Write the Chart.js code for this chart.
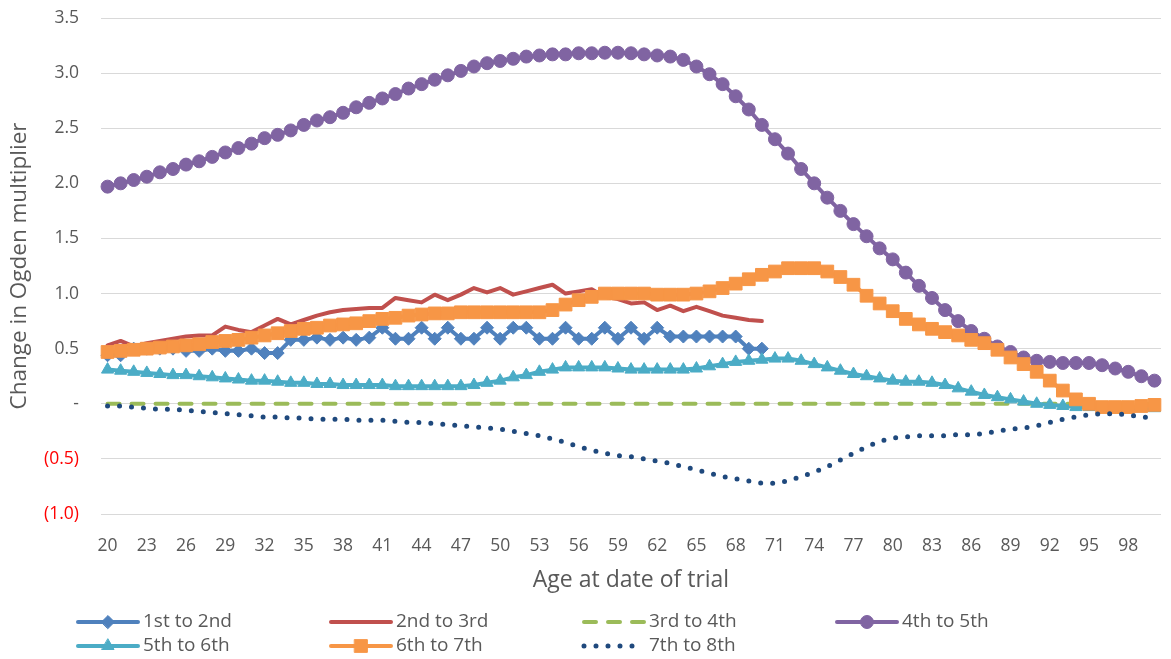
<!DOCTYPE html>
<html>
<head>
<meta charset="utf-8">
<script src="https://cdn.jsdelivr.net/npm/chart.js@4.4.1/dist/chart.umd.min.js"></script>
<style>
  html, body { margin: 0; padding: 0; background: #ffffff; }
  #wrap { width: 1171px; height: 659px; position: relative; }
</style>
</head>
<body>
<div id="wrap"><canvas id="c" width="1171" height="659"></canvas></div>
<script>
const ages = [20,21,22,23,24,25,26,27,28,29,30,31,32,33,34,35,36,37,38,39,40,41,42,43,44,45,46,47,48,49,50,51,52,53,54,55,56,57,58,59,60,61,62,63,64,65,66,67,68,69,70,71,72,73,74,75,76,77,78,79,80,81,82,83,84,85,86,87,88,89,90,91,92,93,94,95,96,97,98,99,100];

const seriesNames = ["1st to 2nd","2nd to 3rd","3rd to 4th","4th to 5th","5th to 6th","6th to 7th","7th to 8th"];

const firstToSecond = [0.44,0.44,0.5,0.5,0.5,0.5,0.48,0.48,0.5,0.48,
  0.48,0.5,0.46,0.46,0.58,0.58,0.6,0.58,0.6,0.58,
  0.6,0.69,0.59,0.59,0.69,0.59,0.69,0.59,0.59,0.69,
  0.59,0.69,0.69,0.59,0.59,0.69,0.59,0.59,0.69,0.59,
  0.69,0.59,0.69,0.61,0.61,0.61,0.61,0.61,0.61,0.5,
  0.5];

const secondToThird = [0.53,0.57,0.52,0.55,0.57,0.59,0.61,0.62,0.62,0.70,
  0.67,0.65,0.71,0.77,0.72,0.76,0.80,0.83,0.85,0.86,
  0.87,0.87,0.96,0.94,0.92,0.99,0.94,0.99,1.05,1.01,
  1.05,0.99,1.02,1.05,1.08,1.00,1.02,1.04,0.97,0.95,
  0.91,0.92,0.85,0.89,0.84,0.88,0.84,0.80,0.78,0.76,
  0.75];

const thirdToFourth = [0,0,0,0,0,0,0,0,0,0,
  0,0,0,0,0,0,0,0,0,0,
  0,0,0,0,0,0,0,0,0,0,
  0,0,0,0,0,0,0,0,0,0,
  0,0,0,0,0,0,0,0,0,0,
  0,0,0,0,0,0,0,0,0,0,
  0,0,0,0,0,0,0,0,0,0,
  0,0,0,0,0,0,0,0,0,0,
  0];

const fourthToFifth = [1.97,2.00,2.03,2.06,2.10,2.13,2.17,2.20,2.24,2.28,
  2.32,2.36,2.41,2.44,2.48,2.53,2.57,2.60,2.64,2.69,
  2.73,2.77,2.81,2.86,2.90,2.94,2.98,3.02,3.06,3.09,
  3.11,3.13,3.15,3.16,3.17,3.17,3.18,3.18,3.185,3.185,
  3.18,3.17,3.16,3.15,3.12,3.06,2.99,2.90,2.79,2.67,
  2.53,2.40,2.27,2.13,2.00,1.87,1.75,1.63,1.52,1.41,
  1.31,1.19,1.07,0.96,0.85,0.75,0.66,0.59,0.52,0.47,
  0.42,0.39,0.38,0.37,0.37,0.37,0.35,0.32,0.29,0.25,
  0.21];

const fifthToSixth = [0.31,0.30,0.29,0.28,0.27,0.26,0.26,0.25,0.24,0.23,
  0.22,0.21,0.21,0.20,0.19,0.19,0.18,0.18,0.17,0.17,
  0.17,0.17,0.16,0.16,0.16,0.16,0.16,0.16,0.17,0.19,
  0.21,0.24,0.26,0.29,0.31,0.33,0.33,0.33,0.33,0.32,
  0.31,0.31,0.31,0.31,0.31,0.32,0.34,0.36,0.38,0.39,
  0.40,0.41,0.41,0.39,0.36,0.33,0.30,0.27,0.25,0.23,
  0.21,0.20,0.20,0.19,0.17,0.14,0.11,0.08,0.06,0.04,
  0.02,0.00,-0.01,-0.02,-0.03,-0.03,-0.04,-0.04,-0.04,-0.04,
  -0.04];

const sixthToSeventh = [0.47,0.48,0.49,0.50,0.51,0.52,0.53,0.54,0.56,0.57,
  0.58,0.60,0.62,0.64,0.66,0.68,0.69,0.71,0.72,0.73,
  0.75,0.77,0.78,0.80,0.81,0.82,0.82,0.83,0.83,0.83,
  0.83,0.83,0.83,0.83,0.85,0.90,0.94,0.97,1.00,1.00,
  1.00,1.00,0.99,0.99,0.99,1.00,1.02,1.05,1.09,1.13,
  1.17,1.20,1.23,1.23,1.23,1.20,1.15,1.08,0.98,0.91,
  0.84,0.77,0.72,0.68,0.65,0.62,0.58,0.55,0.49,0.42,
  0.36,0.29,0.21,0.12,0.04,0.00,-0.03,-0.03,-0.03,-0.02,
  -0.01];

const seventhToEighth = [-0.02,-0.02,-0.03,-0.04,-0.05,-0.05,-0.06,-0.07,-0.08,-0.09,
  -0.10,-0.11,-0.12,-0.12,-0.13,-0.13,-0.14,-0.14,-0.14,-0.15,
  -0.15,-0.15,-0.16,-0.17,-0.17,-0.18,-0.19,-0.20,-0.21,-0.22,
  -0.23,-0.25,-0.27,-0.29,-0.32,-0.35,-0.39,-0.42,-0.45,-0.47,
  -0.48,-0.50,-0.52,-0.54,-0.57,-0.60,-0.63,-0.66,-0.68,-0.70,
  -0.72,-0.72,-0.70,-0.66,-0.62,-0.57,-0.51,-0.45,-0.39,-0.34,
  -0.31,-0.30,-0.29,-0.29,-0.29,-0.28,-0.28,-0.27,-0.25,-0.23,
  -0.22,-0.20,-0.17,-0.14,-0.12,-0.10,-0.09,-0.09,-0.10,-0.12,
  -0.13];

const yTicks = [3.5,3.0,2.5,2.0,1.5,1.0,0.5,0,-0.5,-1.0];
const xTitle = "Age at date of trial";
const yTitle = "Change in Ogden multiplier";

const FONT = "'Open Sans', Lato, 'Liberation Sans', sans-serif";
const TXT = "#595959";

const styles = [
  {color:"#4f81bd", point:"rectRot", radius:6.5, dash:[], width:4},
  {color:"#c0504d", point:false, radius:0, dash:[], width:4},
  {color:"#9bbb59", point:false, radius:0, dash:[12,12], width:4},
  {color:"#8064a2", point:"circle", radius:6.5, dash:[], width:4},
  {color:"#4bacc6", point:"triangle", radius:7, dash:[], width:4},
  {color:"#f79646", point:"rect", radius:9, dash:[], width:4},
  {color:"#1f497d", point:false, radius:0, dash:[0,12], width:5}
];
const allData = [firstToSecond, secondToThird, thirdToFourth, fourthToFifth, fifthToSixth, sixthToSeventh, seventhToEighth];

const datasets = allData.map((d, i) => ({
  label: seriesNames[i],
  data: d,
  borderColor: styles[i].color,
  backgroundColor: styles[i].color,
  borderWidth: styles[i].width,
  borderDash: styles[i].dash,
  borderCapStyle: 'round',
  borderJoinStyle: 'round',
  pointStyle: styles[i].point || 'circle',
  pointRadius: styles[i].radius,
  pointBorderWidth: styles[i].point ? 1 : 0,
  pointBorderColor: styles[i].color,
  pointBackgroundColor: styles[i].color,
  pointHoverRadius: styles[i].radius,
  tension: 0,
  fill: false,
  order: 7 - i
}));

const legendPlugin = {
  id: 'customLegend',
  afterDraw(chart) {
    const ctx = chart.ctx;
    ctx.save();
    chart.data.datasets.forEach((ds, i) => {
      const col = i % 4, row = Math.floor(i / 4);
      const x0 = 78 + col * 253;
      const y = 622 + row * 24;
      const st = styles[i];
      ctx.save();
      ctx.strokeStyle = st.color;
      ctx.lineWidth = st.width;
      ctx.lineCap = 'round';
      ctx.setLineDash(st.dash);
      ctx.beginPath();
      ctx.moveTo(x0, y);
      ctx.lineTo(x0 + 60, y);
      ctx.stroke();
      ctx.setLineDash([]);
      if (st.point) {
        ctx.fillStyle = st.color;
        ctx.strokeStyle = st.color;
        ctx.lineWidth = 1;
        Chart.helpers.drawPoint(ctx, {pointStyle: st.point, radius: st.radius, rotation: 0, borderWidth: 1}, x0 + 30, y);
      }
      ctx.restore();
      ctx.fillStyle = TXT;
      ctx.font = "19px " + FONT;
      ctx.textBaseline = 'middle';
      ctx.textAlign = 'left';
      ctx.fillText(ds.label, x0 + 65, y);
    });
    ctx.restore();
  }
};

new Chart(document.getElementById('c'), {
  type: 'line',
  data: { labels: ages, datasets },
  options: {
    responsive: false,
    animation: false,
    events: [],
    layout: { padding: { top: 18, right: 2, left: 0, bottom: 65 } },
    plugins: { legend: { display: false }, tooltip: { enabled: false } },
    scales: {
      x: {
        type: 'category',
        offset: true,
        grid: { display: false, drawTicks: false },
        border: { display: false },
        ticks: {
          autoSkip: false,
          maxRotation: 0,
          padding: 22,
          color: TXT,
          font: { family: FONT, size: 17.5 },
          callback: function(v, idx) {
            const a = ages[idx];
            return ((a - ages[0]) % 3 === 0 && a <= 98) ? String(a) : '';
          }
        },
        title: { display: true, text: xTitle, color: TXT, font: { family: FONT, size: 23 }, padding: { top: 0, bottom: 0 } },
        afterFit(scale) { scale.height = 80; scale.paddingLeft = 0; scale.paddingRight = 0; }
      },
      y: {
        min: -1.0,
        max: 3.5,
        afterBuildTicks(scale) { scale.ticks = yTicks.map(v => ({ value: v })); },
        grid: { color: '#d9d9d9', lineWidth: 1, drawTicks: false },
        border: { display: false },
        ticks: {
          padding: 22,
          color: (c) => (c.tick && c.tick.value < 0) ? '#ff0000' : TXT,
          font: { family: FONT, size: 17.5 },
          callback: function(v) {
            if (Math.abs(v) < 1e-9) return '-';
            if (v < 0) return '(' + (-v).toFixed(1) + ')';
            return v.toFixed(1);
          }
        },
        title: { display: true, text: yTitle, color: TXT, font: { family: FONT, size: 22.5 }, padding: { top: 6, bottom: 0 } },
        afterFit(scale) { scale.width = 101; scale.paddingTop = 0; scale.paddingBottom = 0; }
      }
    }
  },
  plugins: [legendPlugin]
});
</script>
</body>
</html>
